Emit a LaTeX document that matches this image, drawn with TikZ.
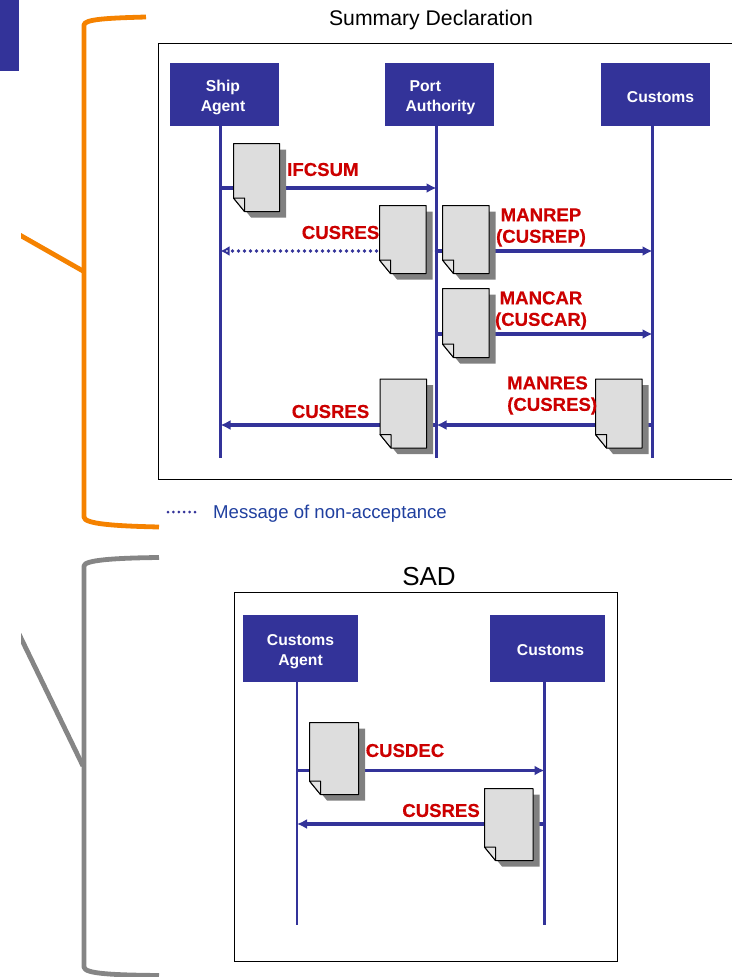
\documentclass[tikz,border=0pt]{standalone}
\usepackage{fontspec}
\setmainfont{Liberation Sans}
\newfontface\msgface{Liberation Sans Bold}[FakeBold=0.35]
\usetikzlibrary{arrows.meta}
\definecolor{navy}{HTML}{333399}
\definecolor{msgred}{HTML}{CC0000}
\definecolor{legendblue}{HTML}{1F3F9F}
\definecolor{bracketorange}{HTML}{F58200}
\definecolor{bracketgray}{HTML}{858585}
\definecolor{docgray}{HTML}{DDDDDD}
\definecolor{shadowgray}{HTML}{808080}
\tikzset{
  actor/.style={fill=navy,draw=none,inner sep=0pt,anchor=north west},
  actortext/.style={text=white,font=\fontsize{15.7}{20}\selectfont\bfseries,align=center,inner sep=0pt},
  lifeline/.style={draw=navy,line width=2.5pt},
  msg/.style={draw=navy,line width=3.3pt,-{Latex[length=10pt,width=10pt]}},
  msgdot/.style={draw=navy,line width=3.6pt,line cap=round,dash pattern=on 0pt off 6pt,-{Latex[length=9pt,width=10pt,open,fill=white,line width=2pt]}},
  msgtext/.style={text=msgred,font=\fontsize{18.6}{21.5}\selectfont\msgface,inner sep=0pt,align=center},
  frame/.style={draw=black,line width=0.9pt,fill=white},
  bracket/.style={line width=4.8pt,line cap=butt,line join=round},
  title/.style={inner sep=0pt,text=black},
}
% left, top, width, height, name
\newcommand{\docsheet}[5]{%
  \fill[shadowgray] (#1+6.5,#2+6) -- ++(#3,0) -- ++(0,#4) -- ++(-#3+11,0) -- ++(-11,-13.5) -- cycle;
  \draw[line width=1pt,fill=docgray,line join=round] (#1,#2) -- ++(#3,0) -- ++(0,#4) -- ++(-#3+11,0) -- ++(-11,-13.5) -- cycle;
  \draw[line width=1pt,fill=docgray!80!white,line join=round] (#1,#2+#4-13.5) -- (#1+11,#2+#4-13.5) -- (#1+11,#2+#4) -- cycle;
  \node[inner sep=0pt,minimum width=#3pt,minimum height=#4pt,anchor=north west] (#5) at (#1,#2) {};
}
\begin{document}
\begin{tikzpicture}[x=1pt,y=-1pt]
\useasboundingbox (0,0) rectangle (731,977);
% corner block
\fill[navy] (0,0) rectangle (19,71);
% brackets
\begin{scope}
\clip (21,0) rectangle (159,977);
\draw[bracket,draw=bracketorange] (146,17) .. controls (110,18) and (84,19) .. (84,25) -- (84,517) .. controls (84,524) and (115,526) .. (159,527);
\draw[bracket,draw=bracketorange] (18,234) -- (83,271);
\draw[bracket,draw=bracketgray] (159,557.5) .. controls (115,558) and (84,560) .. (84,566) -- (84,967) .. controls (84,974) and (115,975) .. (159,975.5);
\draw[bracket,draw=bracketgray] (19,634) -- (83,766);
\end{scope}
% frames
\node[title,font=\fontsize{21.2}{24}\selectfont] (t1) at (431,20) {Summary Declaration};
\draw[frame] (158,43) -- (733,43) -- (733,479) -- (158,479) -- cycle;
\node[title,font=\fontsize{26}{30}\selectfont] (t2) at (429,577) {SAD};
\draw[frame] (234,592) rectangle (617,961);
% actors top
\node[actor,minimum width=109pt,minimum height=63pt] (ship) at (170,63) {};
\node[actor,minimum width=109pt,minimum height=63pt] (port) at (385,63) {};
\node[actor,minimum width=109pt,minimum height=63pt] (cust) at (601,63) {};
\node[actortext] (shipt) at (223,97.5) {Ship\\Agent};
\node[actortext,align=left] (portt) at (440.5,97.5) {\hspace{4pt}Port\\Authority};
\node[actortext] (custt) at (660.5,97) {Customs};
% actors bottom
\node[actor,minimum width=115pt,minimum height=67pt] (cagent) at (243,615) {};
\node[actor,minimum width=115pt,minimum height=67pt] (cust2) at (490,615) {};
\node[actortext] (cagentt) at (300.5,651.5) {Customs\\Agent};
\node[actortext] (cust2t) at (550.5,650) {Customs};
% lifeline ends
\coordinate (sE) at (220.5,458);
\coordinate (pE) at (436.5,458);
\coordinate (cE) at (652.5,458);
\coordinate (aE) at (297,925);
\coordinate (dE) at (544.5,925);
\coordinate (sS) at (220.5,126);
\coordinate (pS) at (436.5,126);
\coordinate (cS) at (652.5,126);
\coordinate (aS) at (297,682);
\coordinate (dS) at (544.5,682);
\draw[lifeline] (sS) -- (sE);
\draw[lifeline] (pS) -- (pE);
\draw[lifeline] (cS) -- (cE);
\draw[lifeline] (aS) -- (aE);
\draw[lifeline] (dS) -- (dE);
% message anchors
\coordinate (s1) at (220.5,188); \coordinate (p1) at (436.5,188);
\coordinate (s2) at (220.5,251); \coordinate (p2) at (436.5,251); \coordinate (c2) at (652.5,251);
\coordinate (p3) at (436.5,334); \coordinate (c3) at (652.5,334);
\coordinate (s4) at (220.5,425); \coordinate (p4) at (436.5,425); \coordinate (c4) at (652.5,425);
\coordinate (a1) at (297,770.5); \coordinate (d1) at (544.5,770.5);
\coordinate (a2) at (297,824); \coordinate (d2) at (544.5,824);
% messages
\draw[msg] (s1) -- (p1);
\draw[msgdot] (p2) -- (s2);
\draw[msg] (p2) -- (c2);
\draw[msg] (p3) -- (c3);
\draw[msg] (p4) -- (s4);
\draw[msg] (c4) -- (p4);
\draw[msg] (a1) -- (d1);
\draw[msg] (d2) -- (a2);
% documents
\docsheet{233.5}{143.5}{46}{68}{docA}
\docsheet{379.5}{205.5}{46.5}{68}{docB}
\docsheet{442.5}{205.5}{46.5}{68}{docC}
\docsheet{442.5}{288.5}{46.5}{69}{docD}
\docsheet{380}{379}{46.5}{69}{docE}
\docsheet{595.5}{379}{46.5}{69}{docF}
\docsheet{309.5}{722.5}{49}{72}{docG}
\docsheet{484.5}{788.5}{48.5}{72}{docH}
% labels
\node[msgtext,anchor=west] (l1) at (287,169.5) {IFCSUM};
\node[msgtext,anchor=east] (l2) at (379.5,232.5) {CUSRES};
\node[msgtext] (l3) at (541,227.5) {MANREP\\(CUSREP)};
\node[msgtext] (l4) at (541,310.5) {MANCAR\\(CUSCAR)};
\node[msgtext,align=left,anchor=west] (l5) at (507,395.5) {MANRES\\(CUSRES)};
\node[msgtext,anchor=east] (l6) at (369.5,411.5) {CUSRES};
\node[msgtext,anchor=west] (l7) at (365.5,750.5) {CUSDEC};
\node[msgtext,anchor=east] (l8) at (480,810.5) {CUSRES};
% legend
\coordinate (legA) at (168,512);
\coordinate (legB) at (195,512);
\draw[draw=navy,line width=3pt,line cap=round,dash pattern=on 0pt off 5.4pt] (legA) -- (legB);
\node[inner sep=0pt,anchor=west,text=legendblue,font=\fontsize{18.6}{21}\selectfont] (legt) at (213,513.5) {Message of non-acceptance};
\end{tikzpicture}
\end{document}
